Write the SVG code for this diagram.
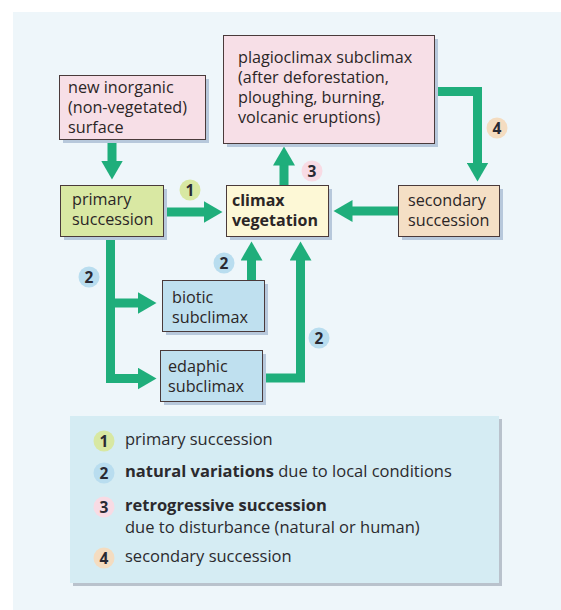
<svg xmlns="http://www.w3.org/2000/svg" width="561" height="610" viewBox="0 0 561 610">
<defs>
<marker id="ah" viewBox="0 0 20 22" markerWidth="20" markerHeight="22" markerUnits="userSpaceOnUse" refX="0.5" refY="11" orient="auto">
<path d="M0,0 L19,11 L0,22 z" fill="#1fae7b"/>
</marker>
<style>
.box{stroke:#4a3a3a;stroke-width:1}
.sh{fill:#b7c8db}
.t{font-family:"Open Sans","Liberation Sans",sans-serif;font-size:16.2px;fill:#2b2626}
.tb{font-family:"Open Sans","Liberation Sans",sans-serif;font-size:16px;font-weight:bold;fill:#2b2626}
.lt{font-family:"Open Sans","Liberation Sans",sans-serif;font-size:16.5px;fill:#2b2a2e}
.num{font-family:"Open Sans","Liberation Sans",sans-serif;font-size:15.5px;font-weight:bold;fill:#2a2a33;text-anchor:middle}
.c{fill:none;stroke:#1fae7b;stroke-width:9;stroke-linejoin:miter;stroke-linecap:butt}
.g{fill:#d8e8a2}.b{fill:#b9ddef}.p{fill:#f8dbe4}.o{fill:#f4dcc0}
</style>
</defs>
<rect width="561" height="610" fill="#ffffff"/>
<rect x="13" y="12" width="548" height="598" fill="#eef6fa"/>

<g id="legend">
<rect x="73" y="419" width="429" height="167" fill="#b9c2cc"/>
<rect x="70" y="416" width="429" height="167" fill="#d5ecf3"/>
<circle cx="104" cy="441" r="10.5" class="g"/><text x="104" y="446.5" class="num">1</text>
<text x="125" y="445" class="lt">primary succession</text>
<circle cx="104" cy="473" r="10.5" class="b"/><text x="104" y="478.5" class="num">2</text>
<text x="125" y="477" class="lt"><tspan font-weight="bold">natural variations</tspan> due to local conditions</text>
<circle cx="104" cy="507" r="10.5" class="p"/><text x="104" y="512.5" class="num">3</text>
<text x="125" y="511" class="lt" font-weight="bold">retrogressive succession</text>
<text x="125" y="533" class="lt">due to disturbance (natural or human)</text>
<circle cx="104" cy="558" r="10.5" class="o"/><text x="104" y="563.5" class="num">4</text>
<text x="125" y="562" class="lt">secondary succession</text>
</g>

<g id="connectors">
<path class="c" d="M112,139 V161" marker-end="url(#ah)"/>
<path class="c" d="M163,212 H204" marker-end="url(#ah)"/>
<path class="c" d="M284,185 V165" marker-end="url(#ah)"/>
<path class="c" d="M434,91.5 H477.5 V163" marker-end="url(#ah)"/>
<path class="c" d="M398,211 H352" marker-end="url(#ah)"/>
<path class="c" d="M110.5,236 V378.5 H138" marker-end="url(#ah)"/>
<path class="c" d="M110.5,303 H138" marker-end="url(#ah)"/>
<path class="c" d="M251.5,280 V260" marker-end="url(#ah)"/>
<path class="c" d="M262,378 H300.5 V260" marker-end="url(#ah)"/>
</g>

<g id="badges">
<circle cx="190" cy="190" r="10.5" class="g"/><text x="190" y="195.5" class="num">1</text>
<circle cx="312" cy="171" r="10.5" class="p"/><text x="312" y="176.5" class="num">3</text>
<circle cx="497" cy="128" r="10.5" class="o"/><text x="497" y="133.5" class="num">4</text>
<circle cx="89" cy="277" r="10.5" class="b"/><text x="89" y="282.5" class="num">2</text>
<circle cx="224" cy="263" r="10.5" class="b"/><text x="224" y="268.5" class="num">2</text>
<circle cx="319" cy="338" r="10.5" class="b"/><text x="319" y="343.5" class="num">2</text>
</g>

<g id="new-inorganic">
<rect x="63" y="79" width="146" height="64" class="sh"/>
<rect x="59.5" y="75.5" width="146" height="64" fill="#f7dfe7" class="box"/>
<text x="68" y="93" class="t">new inorganic</text>
<text x="68" y="113" class="t">(non-vegetated)</text>
<text x="68" y="133" class="t">surface</text>
</g>

<g id="plagioclimax">
<rect x="227" y="39" width="211" height="108" class="sh"/>
<rect x="223.5" y="35.5" width="211" height="108" fill="#f7dfe7" class="box"/>
<text x="238" y="63" class="t">plagioclimax subclimax</text>
<text x="238" y="83" class="t">(after deforestation,</text>
<text x="238" y="103" class="t">ploughing, burning,</text>
<text x="238" y="123" class="t">volcanic eruptions)</text>
</g>

<g id="primary">
<rect x="64" y="189" width="103" height="51" class="sh"/>
<rect x="60.5" y="185.5" width="103" height="51" fill="#d9e8a3" class="box"/>
<text x="72" y="205" class="t">primary</text>
<text x="72" y="225" class="t">succession</text>
</g>

<g id="climax">
<rect x="230" y="189" width="102" height="51" class="sh"/>
<rect x="226.5" y="185.5" width="102" height="51" fill="#fdf8d6" class="box"/>
<text x="232" y="206" class="tb">climax</text>
<text x="232" y="226" class="tb">vegetation</text>
</g>

<g id="secondary">
<rect x="402" y="189" width="101" height="51" class="sh"/>
<rect x="398.5" y="185.5" width="101" height="51" fill="#f4dfc5" class="box"/>
<text x="408" y="206" class="t">secondary</text>
<text x="408" y="226" class="t">succession</text>
</g>

<g id="biotic">
<rect x="166" y="284" width="102" height="51" class="sh"/>
<rect x="162.5" y="280.5" width="102" height="51" fill="#bfe0ef" class="box"/>
<text x="172" y="303" class="t">biotic</text>
<text x="172" y="323" class="t">subclimax</text>
</g>

<g id="edaphic">
<rect x="164" y="354" width="102" height="51" class="sh"/>
<rect x="160.5" y="350.5" width="102" height="51" fill="#bfe0ef" class="box"/>
<text x="168" y="372" class="t">edaphic</text>
<text x="168" y="392" class="t">subclimax</text>
</g>
</svg>
